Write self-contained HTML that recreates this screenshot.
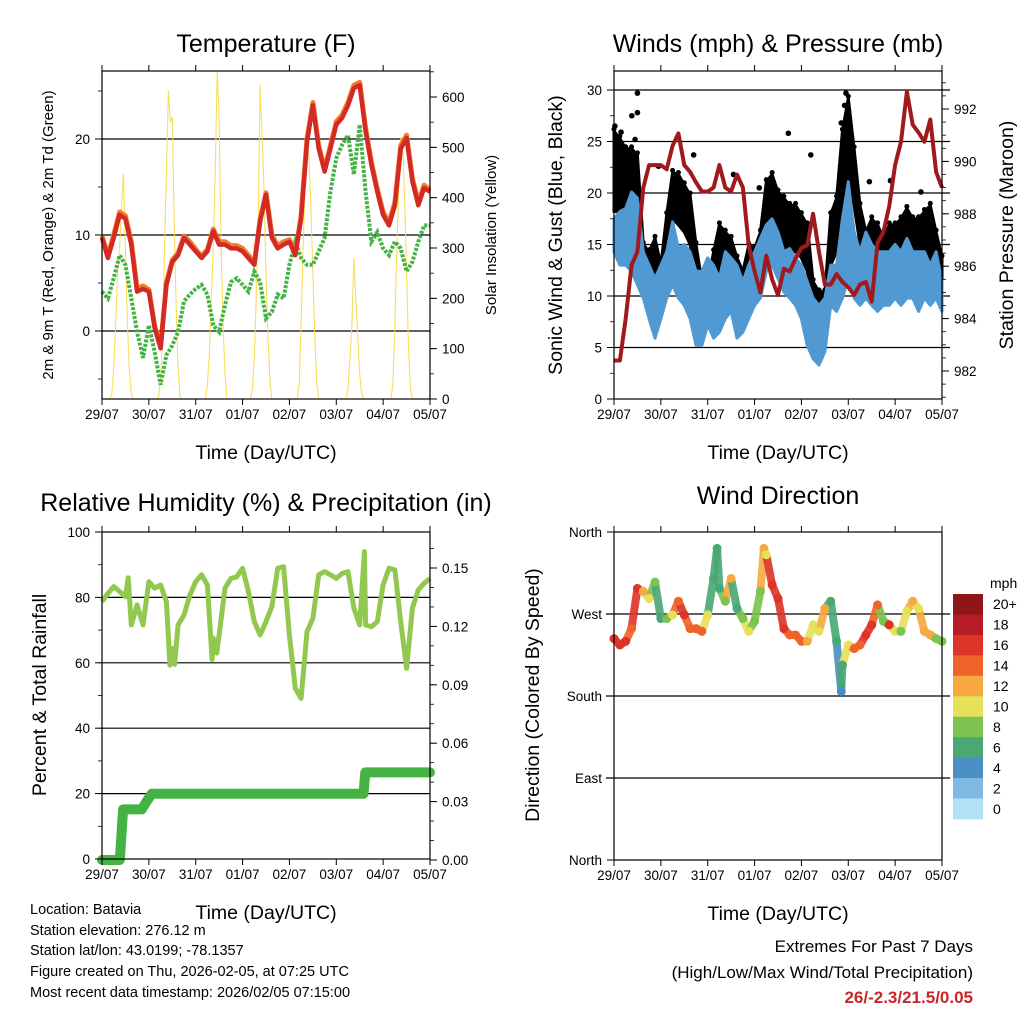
<!DOCTYPE html>
<html><head><meta charset="utf-8">
<style>
html,body{margin:0;padding:0;background:#fff;}
svg{display:block;font-family:"Liberation Sans",Arial,sans-serif;}
</style></head>
<body>
<svg id="chart" width="1024" height="1024" viewBox="0 0 1024 1024">
<g id="g"></g>
</svg>
<script>
// ---------- DATA ----------
const dayLabels=["29/07","30/07","31/07","01/07","02/07","03/07","04/07","05/07"];
const tTimes=[0,0.125,0.25,0.375,0.5,0.625,0.75,0.875,1,1.125,1.25,1.375,1.5,1.625,1.75,1.875,2,2.125,2.25,2.375,2.5,2.625,2.75,2.875,3,3.125,3.25,3.375,3.5,3.625,3.75,3.875,4,4.125,4.25,4.375,4.5,4.625,4.75,4.875,5,5.125,5.25,5.375,5.5,5.625,5.75,5.875,6,6.125,6.25,6.375,6.5,6.625,6.75,6.875,7];
const temp2m=[9.7,7.6,9.7,12.1,11.7,9.0,4.1,4.4,4.1,0.3,-1.8,4.8,7.2,7.9,9.7,9.0,8.3,7.6,8.3,10.4,9.0,9.0,8.6,8.6,8.3,7.6,6.9,11.4,14.2,9.7,8.6,9.0,9.3,7.9,11.7,19.7,23.5,19.0,16.6,19.0,21.5,22.2,23.5,25.3,25.6,20.8,17.3,14.5,12.1,11.0,13.1,19.0,20.1,15.6,13.1,14.9,14.5];
const temp9m=[9.9,7.9,10.0,12.4,12.0,9.3,4.4,4.7,4.3,0.5,-1.6,5.0,7.4,8.1,9.9,9.3,8.5,7.8,8.5,10.6,9.3,9.3,8.9,8.9,8.6,7.9,7.1,11.6,14.4,10.0,8.9,9.3,9.5,8.1,12.0,20.0,23.8,19.3,16.9,19.3,21.8,22.5,23.8,25.6,25.9,21.1,17.6,14.8,12.4,11.3,13.4,19.3,20.4,15.9,13.4,15.2,14.7];
const dewpt=[4.1,3.4,5.5,7.9,6.9,3.4,-0.1,-2.8,0.6,-2.2,-5.6,-2.5,-1.5,-0.1,3.1,3.8,4.4,4.8,3.8,0.6,-0.1,2.7,5.1,5.5,4.8,4.1,6.2,5.1,1.3,2.0,3.8,3.4,6.9,9.3,7.6,6.9,6.9,8.3,9.7,14.5,18.0,19.4,20.4,16.3,21.5,14.5,9.3,10.3,8.6,7.9,9.3,8.6,6.2,7.2,9.3,11.0,11.0];
const solar=[
0,0,0,0,0,10,60,150,250,300,380,449,300,150,60,10,0,0,0,0,0,0,0,0,
0,0,0,0,0,5,40,120,300,450,614,550,560,350,180,60,5,0,0,0,0,0,0,0,
0,0,0,0,0,0,30,90,200,300,450,650,560,300,150,50,0,0,0,0,0,0,0,0,
0,0,0,0,0,20,80,200,350,624,520,420,250,120,40,0,0,0,0,0,0,0,0,0,
0,0,0,0,0,30,150,300,420,511,480,380,250,120,30,0,0,0,0,0,0,0,0,0,
0,0,0,0,0,0,20,80,150,280,200,120,50,10,0,0,0,0,0,0,0,0,0,0,
0,0,0,0,0,30,150,300,420,520,500,400,250,100,20,0,0,0,0,0,0,0,0,0,0];
const pressure=[982.4,982.4,984.0,986.05,986.55,989.0,989.86,989.86,989.86,989.7,990.6,991.07,989.86,989.6,989.2,988.85,988.85,989.0,989.86,989.0,988.85,989.5,989.0,986.8,985.8,985.0,986.4,985.5,984.9,985.9,985.8,986.3,986.7,986.8,988.0,986.55,985.3,985.3,985.7,985.4,985.2,984.9,985.3,985.4,984.65,986.9,987.3,988.3,989.86,990.75,992.66,991.4,991.1,990.75,991.6,989.6,989.0];
const windHigh=[17.5,18.2,18.5,20.1,19.5,14.3,13,11.7,13,14.3,17.2,14.6,15,14.3,12.4,12.4,13.7,13,11.7,14.3,13.7,13,11.4,13,14.3,15.6,16.9,17.5,16.2,14.3,14.6,13.7,13,11.4,9.8,9.1,9.8,13,13,17.5,21.1,16.2,14.3,16.2,15,14.3,14.3,14.3,15,14.3,15.6,14.3,14.3,14.3,13,14.3,11.4];
const windLow=[14.3,13,13,12.4,11.1,9.8,7.8,5.9,7.8,9.8,11.1,9.8,9.1,7.8,5.2,5.2,7.2,5.9,6.5,7.8,8.5,5.9,6.5,7.8,9.1,9.8,12.4,13,11.7,10.4,9.8,9.1,7.8,5.2,3.9,3.3,4.6,9.1,8.5,9.8,11.7,9.8,9.1,9.8,9.1,8.5,9.1,9.1,9.8,9.1,9.8,9.8,8.5,9.8,9.1,9.8,8.5];
const gustHigh=[26,25.3,24.3,24.3,23.7,15,14.3,15.6,13,17.9,22,21.8,20.8,19.8,15,11.4,11.1,14.3,16.9,16.2,15.6,13.7,12.4,14.9,14.6,16.2,21.1,21.8,20.1,19.5,18.8,18.8,17.9,16.9,11.4,10.4,10.4,17.9,19.5,26,29.2,24.3,18.8,16.2,17.5,16.9,15.6,16.9,16.9,17.5,18.5,17.5,17.5,18.2,18.8,16.2,13.7];
const gustLow=[18.2,18.2,18.8,20.1,19.5,12.4,9.8,10.4,9.1,14.3,17.5,16.9,16.2,15,11.7,8.5,7.8,10.4,13,13,11.7,9.8,9.1,11.1,11.4,12.4,16.2,16.9,15.6,14.3,14.3,14.3,13.7,12.4,9.1,7.2,6.5,13,14.3,18.8,21.4,18.8,15,12.4,13.7,13,12.4,13,12.4,13,14.3,13,13.7,13,13.7,12.4,11.1];
const gustOutTimes=[0.02,0.15,0.38,0.5,0.5,0.45,0.95,1.7,2.55,3.1,3.72,4.2,4.95,4.92,4.85,5.45,5.9,6.55];
const gustOutVals=[26.5,25.9,27.5,29.7,27.8,25.2,22.6,23.7,21.8,20.5,25.8,23.7,29.7,28.5,26.8,21.1,21.2,20.1];
const rhTimes=[0,0.125,0.25,0.375,0.5,0.56,0.625,0.75,0.875,1,1.125,1.25,1.375,1.45,1.5,1.55,1.625,1.75,1.875,2,2.125,2.25,2.35,2.375,2.45,2.5,2.625,2.75,2.875,3,3.125,3.25,3.375,3.5,3.625,3.75,3.875,4,4.125,4.25,4.375,4.5,4.625,4.75,4.875,5,5.125,5.25,5.375,5.5,5.6,5.625,5.75,5.875,6,6.125,6.25,6.375,6.5,6.625,6.75,6.875,7];
const rhVals=[78.7,81.2,83.3,81.8,80.2,86,71.6,77.7,71.6,84.8,82.8,83.8,78.7,59.3,64.4,59.5,71.6,74.6,80.7,84.8,86.9,83.8,61,67.5,63,68.5,82.8,85.8,86.3,88.9,81.8,72.6,68.5,72.6,77.2,88.9,89.4,68.5,52.2,49.1,69.5,73.6,86.9,87.9,86.9,85.8,87.3,87.9,76.7,71.6,94,71.6,71,72.6,83.8,88.9,88.4,72.6,58.3,76.7,82.3,84.3,85.8];
const rainTimes=[0,0.38,0.42,0.45,0.85,0.95,1.06,5.58,5.62,7.0];
const rainVals=[0,0,0.015,0.026,0.026,0.030,0.034,0.034,0.045,0.045];
const dirTimes=[0,0.125,0.25,0.375,0.5,0.625,0.75,0.875,1,1.125,1.25,1.375,1.5,1.625,1.75,1.875,2,2.125,2.2,2.25,2.375,2.5,2.625,2.75,2.875,3,3.125,3.2,3.25,3.375,3.5,3.625,3.75,3.875,4,4.125,4.25,4.375,4.5,4.625,4.75,4.85,4.875,5,5.125,5.25,5.375,5.5,5.625,5.75,5.875,6,6.125,6.25,6.375,6.5,6.625,6.75,6.875,7];
const dirVals=[243,236,240,254,298,295,287,305,265,265,269,284,269,254,254,251,269,309,342,298,284,309,276,265,251,262,295,342,335,302,287,254,247,247,240,240,258,251,276,284,240,185,214,236,232,236,247,258,280,262,258,251,251,273,284,276,251,247,243,240];
const dirSpeeds=[16,16,16,15,17,13,10,8,7,9,10,15,16,14,14,14,10,7,6,6,9,12,7,8,10,9,9,12,11,16,16,16,15,14,14,13,11,10,12,6,6,4,6,10,14,15,17,16,14,9,16,10,9,10,13,11,12,12,9,9];
const cbLabels=["20+","18","16","14","12","10","8","6","4","2","0"];
const cbColors=["#8e1518","#b61c23","#dc3427","#ef6328","#f6a941","#e6e05a","#7cc34f","#4aa874","#4a8fc5","#7fb9e3","#b3e2f7"];

// ---------- HELPERS ----------
const NS="http://www.w3.org/2000/svg";
const root=document.getElementById('g');
function el(tag,attrs,parent,text){const e=document.createElementNS(NS,tag);for(const k in attrs)e.setAttribute(k,attrs[k]);if(text!==undefined)e.textContent=text;(parent||root).appendChild(e);return e;}
function lin(d0,d1,p0,p1){return v=>p0+(v-d0)*(p1-p0)/(d1-d0);}
function speedColor(s){let i=Math.min(10,Math.floor(s/2));return cbColors[10-i];}
function path(xs,ys,fx,fy){return xs.map((t,i)=>(i?'L':'M')+fx(t).toFixed(1)+','+fy(ys[i]).toFixed(1)).join('');}

function frame(name,x0,x1,y0,y1){
  const g=el('g',{});
  
  
  el('rect',{x:x0,y:y0,width:x1-x0,height:y1-y0,fill:'none',stroke:'#000','stroke-width':1.2},g);
  const fx=lin(0,7,x0,x1);
  for(let d=0;d<=7;d++){
    const x=fx(d);
    el('line',{x1:x,x2:x,y1:y1,y2:y1+6,stroke:'#000','stroke-width':1},g);
    el('line',{x1:x,x2:x,y1:y0,y2:y0-6,stroke:'#000','stroke-width':1},g);
    const t=el('text',{x:x,y:y1+20,'font-size':13.5,'text-anchor':'middle'},g,dayLabels[d]);
    
    
  }
  const xt=el('text',{x:(x0+x1)/2,y:y1+60,'font-size':19.5,'text-anchor':'middle'},g,'Time (Day/UTC)');
  
  
  return fx;
}
function yTicks(g,x,side,fy,vals,labels,minors){
  const s=side==='L'?-1:1;
  minors.forEach(v=>el('line',{x1:x,x2:x+s*4,y1:fy(v),y2:fy(v),stroke:'#000','stroke-width':0.8},g));
  vals.forEach((v,i)=>{
    el('line',{x1:x,x2:x+s*7,y1:fy(v),y2:fy(v),stroke:'#000','stroke-width':1},g);
    const t=el('text',{x:x+s*12,y:fy(v)+5,'font-size':13.5,'text-anchor':side==='L'?'end':'start'},g,labels[i]);
    
    
  });
}
function title(x,y,txt,name,size){const t=el('text',{x:x,y:y,'font-size':size||25,'text-anchor':'middle'},root,txt);return t;}
function vtitle(x,y,txt,name,size){const t=el('text',{x:x,y:y,'font-size':size,'text-anchor':'middle',transform:`rotate(-90 ${x} ${y})`},root,txt);return t;}
function range(a,b,s){const r=[];for(let v=a;v<=b+1e-9;v+=s)r.push(+v.toFixed(4));return r;}

// ---------- PANEL 1 ----------
(function(){
  const X0=102,X1=430,Y0=71,Y1=399;
  title(266,52,'Temperature (F)','temperature-title');
  const fx=lin(0,7,X0,X1);
  const fy=lin(0,20,331,139);
  const fs=lin(0,600,399,97);
  const g=el('g',{});
  
  
  [0,10,20].forEach(v=>el('line',{x1:X0,x2:X1,y1:fy(v),y2:fy(v),stroke:'#000','stroke-width':1.2},g));
  const st=solar.map((v,i)=>i/24);
  const sp=el('path',{d:path(st,solar,fx,fs),fill:'none',stroke:'#f7dc4a','stroke-width':1.1,opacity:0.9},g);
  
  
  const dp=el('path',{d:path(tTimes,dewpt,fx,fy),fill:'none',stroke:'#45b244','stroke-width':4,'stroke-dasharray':'3,1.5'},g);
  
  
  const o=el('path',{d:path(tTimes,temp9m,fx,fy),fill:'none',stroke:'#f07f2c','stroke-width':5,'stroke-linejoin':'round'},g);
  
  
  const r=el('path',{d:path(tTimes,temp2m,fx,fy),fill:'none',stroke:'#d42a25','stroke-width':4.5,'stroke-linejoin':'round'},g);
  
  
  frame('temperature',X0,X1,Y0,Y1);
  const a=el('g',{});
  
  
  yTicks(a,X0,'L',fy,[0,10,20],['0','10','20'],range(-5,25,5));
  yTicks(a,X1,'R',fs,[0,100,200,300,400,500,600],['0','100','200','300','400','500','600'],range(0,650,50));
  vtitle(53,235,'2m & 9m T (Red, Orange) & 2m Td (Green)','temperature-y-title',15);
  vtitle(496,235,'Solar Insolation (Yellow)','solar-y-title',15);
})();

// ---------- PANEL 2 ----------
(function(){
  const X0=614,X1=942,Y0=71,Y1=399;
  title(778,52,'Winds (mph) & Pressure (mb)','winds-title');
  const fx=lin(0,7,X0,X1);
  const fy=lin(0,30,399,90);
  const fp=lin(982,992,371,109);
  const g=el('g',{});
  
  
  [5,10,15,20,25,30].forEach(v=>el('line',{x1:X0,x2:X1+8,y1:fy(v),y2:fy(v),stroke:'#000','stroke-width':1.2},g));
  const gb=el('path',{d:path(tTimes,gustHigh,fx,fy)+path(tTimes.slice().reverse(),gustLow.slice().reverse(),fx,fy).replace('M','L')+'Z',fill:'#000',stroke:'#000','stroke-width':3,'stroke-linejoin':'round'},g);
  
  
  tTimes.forEach((t,i)=>{const c=el('circle',{cx:fx(t),cy:fy(gustHigh[i])-2,r:2.5,fill:'#000'},g);});
  gustOutTimes.forEach((t,i)=>{const c=el('circle',{cx:fx(t),cy:fy(gustOutVals[i]),r:2.8,fill:'#000'},g);});
  const wb=el('path',{d:path(tTimes,windHigh,fx,fy)+path(tTimes.slice().reverse(),windLow.slice().reverse(),fx,fy).replace('M','L')+'Z',fill:'#5199d3',stroke:'#5199d3','stroke-width':3,'stroke-linejoin':'round'},g);
  
  
  const pl=el('path',{d:path(tTimes,pressure,fx,fp),fill:'none',stroke:'#a01a1d','stroke-width':4,'stroke-linejoin':'round'},g);
  
  
  frame('winds',X0,X1,Y0,Y1);
  const a=el('g',{});
  
  
  yTicks(a,X0,'L',fy,[0,5,10,15,20,25,30],['0','5','10','15','20','25','30'],range(0,31,2.5));
  yTicks(a,X1,'R',fp,[982,984,986,988,990,992],['982','984','986','988','990','992'],range(981,993,0.5));
  vtitle(562,235,'Sonic Wind & Gust (Blue, Black)','winds-y-title',19.5);
  vtitle(1013,235,'Station Pressure (Maroon)','pressure-y-title',19.5);
})();

// ---------- PANEL 3 ----------
(function(){
  const X0=102,X1=430,Y0=532,Y1=859;
  title(266,511,'Relative Humidity (%) & Precipitation (in)','humidity-title');
  const fx=lin(0,7,X0,X1);
  const fy=lin(0,100,859,532);
  const fr=lin(0,0.15,860,568);
  const g=el('g',{});
  
  
  [20,40,60,80].forEach(v=>el('line',{x1:X0,x2:X1,y1:fy(v),y2:fy(v),stroke:'#000','stroke-width':1.2},g));
  const rh=el('path',{d:path(rhTimes,rhVals,fx,fy),fill:'none',stroke:'#92c84f','stroke-width':5,'stroke-linejoin':'round'},g);
  
  
  const rn=el('path',{d:path(rainTimes,rainVals,fx,fr),fill:'none',stroke:'#45b244','stroke-width':10,'stroke-linejoin':'round','stroke-linecap':'round'},g);
  
  
  frame('humidity',X0,X1,Y0,Y1);
  const a=el('g',{});
  
  
  yTicks(a,X0,'L',fy,[0,20,40,60,80,100],['0','20','40','60','80','100'],range(0,100,10));
  yTicks(a,X1,'R',fr,[0,0.03,0.06,0.09,0.12,0.15],['0.00','0.03','0.06','0.09','0.12','0.15'],range(0,0.165,0.01));
  vtitle(46,695,'Percent & Total Rainfall','humidity-y-title',19.5);
})();

// ---------- PANEL 4 ----------
(function(){
  const X0=614,X1=942,Y0=532,Y1=860;
  title(778,504,'Wind Direction','direction-title');
  const fx=lin(0,7,X0,X1);
  const fy=lin(0,360,860,532);
  const g=el('g',{});
  
  
  [90,180,270].forEach(v=>el('line',{x1:X0-8,x2:X1+8,y1:fy(v),y2:fy(v),stroke:'#000','stroke-width':1.2},g));
  for(let i=1;i<dirTimes.length;i++){
    const s=el('line',{x1:fx(dirTimes[i-1]),y1:fy(dirVals[i-1]),x2:fx(dirTimes[i]),y2:fy(dirVals[i]),stroke:speedColor(dirSpeeds[i]),'stroke-width':8,'stroke-linecap':'round',opacity:0.9},g);
    
    
  }
  dirTimes.forEach((t,i)=>{
    const c=el('circle',{cx:fx(t),cy:fy(dirVals[i]),r:4.5,fill:speedColor(dirSpeeds[i])},g);
    
    
  });
  frame('direction',X0,X1,Y0,Y1);
  const a=el('g',{});
  
  
  yTicks(a,X0,'L',fy,[0,90,180,270,360],['North','East','South','West','North'],[]);
  vtitle(539,695,'Direction (Colored By Speed)','direction-y-title',19.5);
  const cb=el('g',{});
  
  
  const ml=el('text',{x:990,y:588,'font-size':14},cb,'mph');
  
  
  const bh=225/11;
  cbColors.forEach((c,i)=>{
    const r=el('rect',{x:953,y:594+i*bh,width:30,height:bh+0.3,fill:c},cb);
    
    
    const t=el('text',{x:993,y:594+i*bh+bh/2+5,'font-size':14},cb,cbLabels[i]);
    
    
  });
})();
</script>
<div style="position:absolute;left:0;top:0;width:1024px;height:1024px;pointer-events:none;font-family:'Liberation Sans',Arial,sans-serif;">
  <div style="position:absolute;left:30px;top:900px;font-size:14.5px;line-height:20.7px;color:#000;">
    <div>Location: Batavia</div>
    <div>Station elevation: 276.12 m</div>
    <div>Station lat/lon: 43.0199; -78.1357</div>
    <div>Figure created on Thu, 2026-02-05, at 07:25 UTC</div>
    <div>Most recent data timestamp: 2026/02/05 07:15:00</div>
  </div>
  <div style="position:absolute;right:51px;top:934px;text-align:right;font-size:17px;line-height:25.5px;color:#000;">
    <div>Extremes For Past 7 Days</div>
    <div>(High/Low/Max Wind/Total Precipitation)</div>
    <div style="color:#c8262b;font-weight:bold;">26/-2.3/21.5/0.05</div>
  </div>
</div>
</body></html>
